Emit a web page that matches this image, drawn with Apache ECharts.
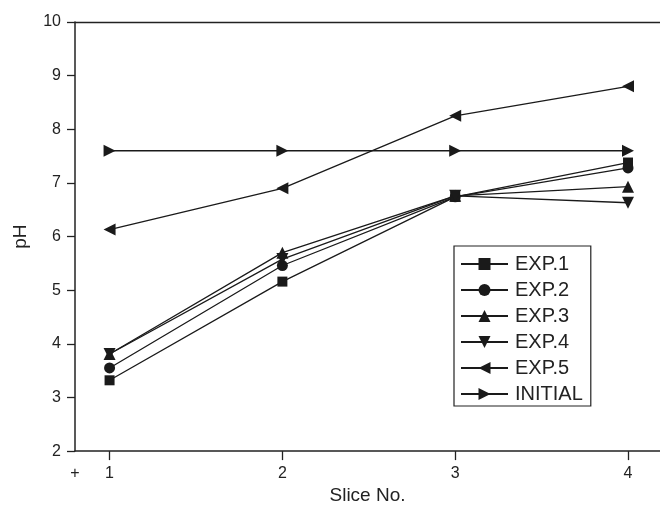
<!DOCTYPE html>
<html><head><meta charset="utf-8">
<script src="https://cdn.jsdelivr.net/npm/echarts@6/dist/echarts.min.js"></script>
<style>html,body{margin:0;padding:0;background:#fff}#c{width:660px;height:510px}</style>
</head><body><div id="c"></div>
<script>
var slices = [1, 2, 3, 4];
var exp1 = [3.32, 5.16, 6.74, 7.38];
var exp2 = [3.55, 5.46, 6.74, 7.28];
var exp3 = [3.81, 5.70, 6.76, 6.93];
var exp4 = [3.81, 5.58, 6.76, 6.63];
var exp5 = [6.13, 6.90, 8.25, 8.80];
var initial = [7.60, 7.60, 7.60, 7.60];
var xTickValues = [1, 2, 3, 4];
var xLabelValues = [0.8, 1, 2, 3, 4];

var FONT = 'Liberation Sans, Arial, sans-serif';
function pts(arr){ return slices.map(function(s,i){ return [s, arr[i]]; }); }
var defs = [
  ['EXP.1', exp1, 'rect', 10],
  ['EXP.2', exp2, 'circle', 11],
  ['EXP.3', exp3, 'triangle', 12],
  ['EXP.4', exp4, 'path://M0,0 L10,0 L5,9 Z', 12],
  ['EXP.5', exp5, 'path://M9,0 L0,5 L9,10 Z', 12],
  ['INITIAL', initial, 'path://M0,0 L9,5 L0,10 Z', 12]
];
var series = defs.map(function(d){
  return {
    name: d[0], type: 'line', data: pts(d[1]), symbol: d[2], symbolSize: d[3],
    showAllSymbol: true,
    lineStyle: {color: '#1a1a1a', width: 1.3},
    itemStyle: {color: '#1a1a1a', borderWidth: 0},
    emphasis: {disabled: true}, animation: false, z: 3
  };
});
var chart = echarts.init(document.getElementById('c'), null, {renderer: 'canvas'});
chart.setOption({
  animation: false,
  backgroundColor: '#fff',
  grid: {left: 75, top: 22, right: 0, bottom: 57, show: false},
  xAxis: [{
    type: 'value', min: 0.8, max: 4.185,
    name: 'Slice No.', nameLocation: 'middle', nameGap: 31,
    nameTextStyle: {fontFamily: FONT, fontSize: 19, color: '#222'},
    axisLine: {show: true, onZero: false, lineStyle: {color: '#222', width: 1.5}},
    axisTick: {show: true, length: 9, customValues: xTickValues, lineStyle: {color: '#222', width: 1.3}},
    axisLabel: {customValues: xLabelValues, margin: 14, fontFamily: FONT, fontSize: 16, color: '#222',
      formatter: function(v){ return Math.abs(v-0.8) < 1e-6 ? '+' : String(v); }},
    splitLine: {show: false}
  }, {
    type: 'value', position: 'top', min: 0.8, max: 4.185,
    axisLine: {show: true, onZero: false, lineStyle: {color: '#222', width: 1.3}},
    axisTick: {show: false}, axisLabel: {show: false}, splitLine: {show: false}
  }],
  yAxis: {
    type: 'value', min: 2, max: 10, interval: 1,
    name: 'pH', nameLocation: 'middle', nameGap: 45,
    nameTextStyle: {fontFamily: FONT, fontSize: 19, color: '#222'},
    axisLine: {show: true, lineStyle: {color: '#222', width: 1.5}},
    axisTick: {show: true, length: 8, lineStyle: {color: '#222', width: 1.3}},
    axisLabel: {margin: 14, fontFamily: FONT, fontSize: 16, color: '#222'},
    splitLine: {show: false}
  },
  legend: {
    orient: 'vertical', left: 454, top: 246, width: 135,
    padding: [8, 8, 2, 6], itemGap: 6, itemWidth: 47, itemHeight: 15,
    borderColor: '#222', borderWidth: 1.2, backgroundColor: '#fff',
    textStyle: {fontFamily: FONT, fontSize: 20, color: '#222', lineHeight: 20, padding: [0, 0, 0, 2]},
    data: defs.map(function(d){ return d[0]; })
  },
  series: series
});
</script></body></html>
